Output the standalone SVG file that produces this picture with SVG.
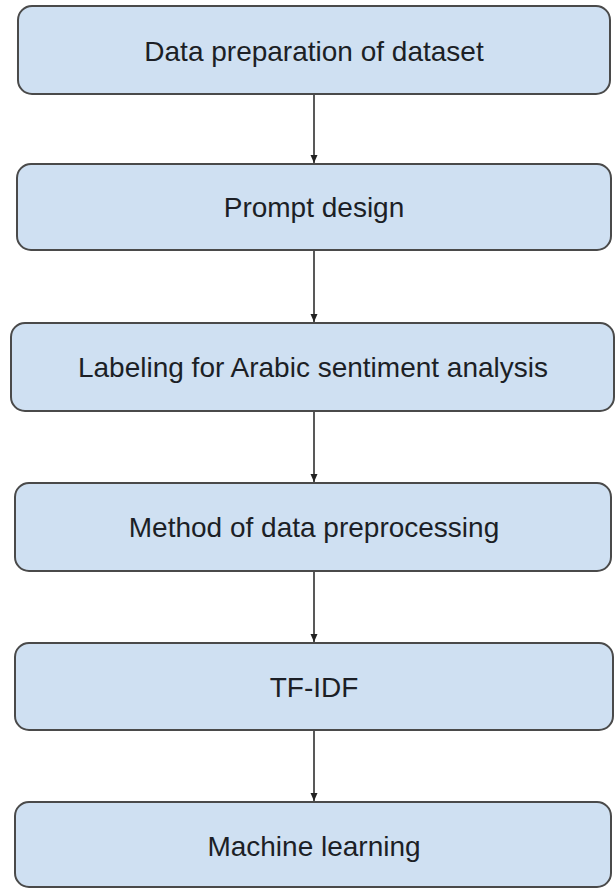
<svg xmlns="http://www.w3.org/2000/svg" width="616" height="890" viewBox="0 0 616 890">
<defs>
<style>
.box{fill:#cfe0f2;stroke:#4a4a4a;stroke-width:2}
.lbl{font-family:"Liberation Sans",Arial,sans-serif;font-size:28px;fill:#1c1f26;text-anchor:middle}
.edge{stroke:#222;stroke-width:1.5;fill:none;marker-end:url(#ah)}
</style>
<marker id="ah" viewBox="0 0 8 8" refX="8" refY="4" markerWidth="8" markerHeight="8" markerUnits="userSpaceOnUse" orient="auto">
<path d="M0,0.5 L8,4 L0,7.5 Z" fill="#222"/>
</marker>
</defs>
<rect width="616" height="890" fill="#ffffff"/>
<g id="connectors">
<line class="edge" x1="314" y1="95" x2="314" y2="163"/>
<line class="edge" x1="314" y1="251" x2="314" y2="322"/>
<line class="edge" x1="314" y1="411" x2="314" y2="482"/>
<line class="edge" x1="314" y1="572" x2="314" y2="642"/>
<line class="edge" x1="314" y1="731" x2="314" y2="801"/>
</g>
<g id="n1"><rect class="box" x="18" y="6" width="592" height="88" rx="14"/><text class="lbl" x="314" y="61">Data preparation of dataset</text></g>
<g id="n2"><rect class="box" x="17" y="164" width="594" height="86" rx="14"/><text class="lbl" x="314" y="217">Prompt design</text></g>
<g id="n3"><rect class="box" x="11" y="323" width="603" height="88" rx="14"/><text class="lbl" x="313" y="377">Labeling for Arabic sentiment analysis</text></g>
<g id="n4"><rect class="box" x="15" y="483" width="596" height="88" rx="14"/><text class="lbl" x="314" y="537">Method of data preprocessing</text></g>
<g id="n5"><rect class="box" x="15" y="643" width="598" height="87" rx="14"/><text class="lbl" x="314" y="697">TF-IDF</text></g>
<g id="n6"><rect class="box" x="15" y="802" width="596" height="85" rx="14"/><text class="lbl" x="314" y="856">Machine learning</text></g>
</svg>
